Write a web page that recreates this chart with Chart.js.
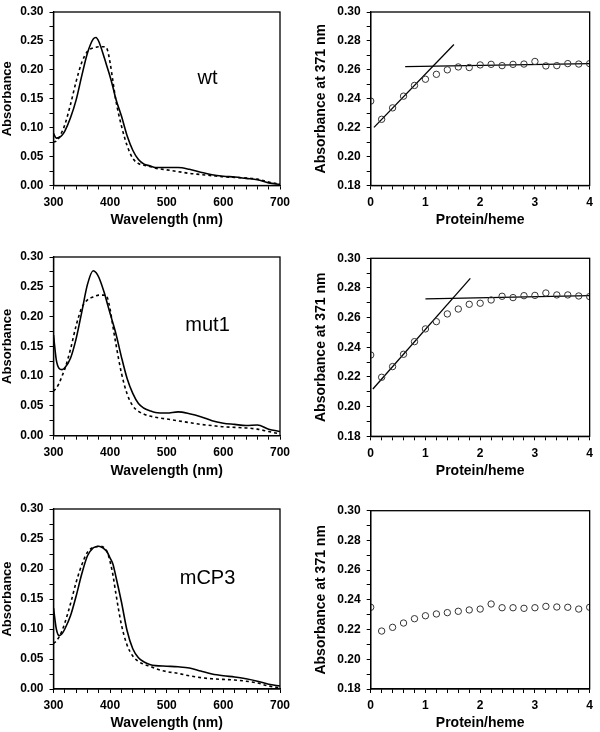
<!DOCTYPE html>
<html>
<head>
<meta charset="utf-8">
<script src="https://cdn.jsdelivr.net/npm/chart.js@4.4.0/dist/chart.umd.min.js"></script>
<style>
  body { margin: 0; background: #fff; }
  .page { position: relative; width: 600px; height: 732px; overflow: hidden; }
  canvas { position: absolute; }
</style>
</head>
<body>
<div class="page">
  <canvas id="spec1" width="300" height="245" style="left:0;top:0"></canvas>
  <canvas id="tit1" width="300" height="245" style="left:300px;top:0"></canvas>
  <canvas id="spec2" width="300" height="245" style="left:0;top:245px"></canvas>
  <canvas id="tit2" width="300" height="245" style="left:300px;top:245px"></canvas>
  <canvas id="spec3" width="300" height="242" style="left:0;top:490px"></canvas>
  <canvas id="tit3" width="300" height="242" style="left:300px;top:490px"></canvas>
</div>
<script>
// spectra (Absorbance vs wavelength)
const wavelengths = [300,305,310,315,320,330,340,350,360,370,375,380,390,395,400,405,410,420,430,440,450,460,470,480,500,520,540,560,580,600,620,640,660,680,700]

const wtSolid   = [0.090,0.082,0.083,0.087,0.094,0.117,0.148,0.190,0.229,0.253,0.256,0.249,0.220,0.204,0.188,0.170,0.150,0.120,0.086,0.061,0.045,0.037,0.034,0.031,0.031,0.031,0.028,0.023,0.0185,0.016,0.0146,0.0123,0.010,0.0045,0.002]
const wtDashed  = [0.075,0.077,0.083,0.093,0.105,0.140,0.180,0.213,0.232,0.238,0.239,0.240,0.240,0.235,0.212,0.180,0.148,0.103,0.069,0.047,0.038,0.035,0.033,0.030,0.027,0.024,0.021,0.019,0.017,0.015,0.014,0.013,0.011,0.006,0.002]

const mut1Solid  = [0.169,0.127,0.113,0.111,0.114,0.130,0.163,0.208,0.254,0.277,0.274,0.266,0.239,0.222,0.205,0.189,0.172,0.132,0.096,0.071,0.054,0.046,0.042,0.039,0.038,0.040,0.037,0.032,0.025,0.021,0.019,0.017,0.018,0.011,0.007]
const mut1Dashed = [0.075,0.080,0.088,0.100,0.112,0.145,0.185,0.215,0.228,0.233,0.235,0.236,0.236,0.232,0.212,0.183,0.155,0.105,0.070,0.050,0.041,0.036,0.033,0.031,0.028,0.025,0.022,0.019,0.017,0.015,0.014,0.013,0.011,0.007,0.003]

const mcp3Solid  = [0.135,0.100,0.089,0.092,0.100,0.122,0.155,0.192,0.222,0.235,0.237,0.238,0.233,0.228,0.218,0.208,0.188,0.145,0.097,0.067,0.052,0.045,0.041,0.039,0.038,0.037,0.035,0.030,0.025,0.022,0.020,0.017,0.013,0.008,0.005]
const mcp3Dashed = [0.076,0.080,0.087,0.097,0.110,0.142,0.178,0.207,0.228,0.236,0.237,0.238,0.235,0.228,0.212,0.190,0.160,0.107,0.073,0.055,0.046,0.041,0.038,0.034,0.029,0.026,0.022,0.019,0.017,0.016,0.015,0.013,0.010,0.005,0.002]

// titrations (Absorbance at 371 nm vs protein/heme)
const proteinHeme = [0,0.2,0.4,0.6,0.8,1.0,1.2,1.4,1.6,1.8,2.0,2.2,2.4,2.6,2.8,3.0,3.2,3.4,3.6,3.8,4.0]
const wtAbs   = [0.2384,0.2258,0.2337,0.2418,0.2492,0.2535,0.2569,0.2600,0.2620,0.2616,0.2634,0.2638,0.2629,0.2638,0.2640,0.2658,0.2627,0.2629,0.2643,0.2640,0.2643]
const mut1Abs = [0.2348,0.2198,0.2270,0.2353,0.2438,0.2524,0.2573,0.2625,0.2658,0.2690,0.2697,0.2719,0.2744,0.2735,0.2748,0.2750,0.2766,0.2753,0.2753,0.2746,0.2742]
const mcp3Abs = [0.2350,0.2190,0.2215,0.2244,0.2273,0.2293,0.2305,0.2314,0.2323,0.2332,0.2338,0.2372,0.2347,0.2347,0.2343,0.2347,0.2356,0.2352,0.2350,0.2338,0.2350]

// fitted lines [x, y] end points
const wtRise   = [[0.06, 0.2202], [1.52, 0.2775]]
const wtFlat   = [[0.63, 0.2622], [4.0, 0.2643]]
const mut1Rise = [[0.04, 0.2119], [1.82, 0.2865]]
const mut1Flat = [[1.0, 0.2726], [4.0, 0.2748]]

const sampleNames = ['wt', 'mut1', 'mCP3']

const FONT = "'Liberation Sans', Arial, sans-serif"

// draws the closed frame and the sample name
const framePlugin = {
    id: 'frame',
    afterDraw(chart, args, opts) {
        const { ctx, chartArea: a } = chart
        ctx.save()
        ctx.strokeStyle = '#000'
        ctx.lineWidth = 1.3
        ctx.strokeRect(a.left, a.top, a.right - a.left, a.bottom - a.top)
        if (opts.label) {
            ctx.fillStyle = '#000'
            ctx.font = '20px ' + FONT
            ctx.textAlign = 'center'
            ctx.textBaseline = 'middle'
            ctx.fillText(opts.label, chart.scales.x.getPixelForValue(opts.lx), chart.scales.y.getPixelForValue(opts.ly))
        }
        ctx.restore()
    }
}

function pts(xs, ys) {
    return xs.map((x, i) => ({ x: x, y: ys[i] }))
}

function axisBase(min, max, step, fmt, title, titleSize, fitFn) {
    return {
        type: 'linear',
        min: min,
        max: max,
        afterFit: fitFn,
        grid: { drawOnChartArea: false, color: '#000', tickLength: 4, lineWidth: 1 },
        border: { color: '#000', width: 1.3 },
        ticks: {
            stepSize: step,
            autoSkip: false,
            maxRotation: 0,
            padding: 6,
            color: '#000',
            font: { family: FONT, size: 12, weight: 'bold', lineHeight: 1 },
            callback: fmt
        },
        title: { display: true, text: title, color: '#000', font: { family: FONT, size: titleSize, weight: 'bold' } }
    }
}

// box = where the plot area sits inside the canvas
function makeChart(id, box, datasets, xAxis, yAxis, label) {
    const canvas = document.getElementById(id)
    const H = canvas.height
    xAxis.afterFit = s => { s.height = H - box.bottom }
    xAxis.ticks.padding = 7
    xAxis.title.padding = { top: 0, bottom: Math.max(0, H - box.bottom - 35 - 8.4) }
    yAxis.afterFit = s => { s.width = box.left - box.titlePad }
    yAxis.title.padding = { top: 0, bottom: 0 }
    return new Chart(canvas.getContext('2d'), {
        type: 'scatter',
        data: { datasets: datasets },
        options: {
            responsive: false,
            animation: false,
            layout: { padding: { top: box.top, right: 300 - box.right, left: box.titlePad, bottom: 0 } },
            scales: { x: xAxis, y: yAxis },
            plugins: {
                legend: { display: false },
                tooltip: { enabled: false },
                frame: label || {}
            }
        },
        plugins: [framePlugin]
    })
}

function spectrum(id, box, solid, dashed, name) {
    const datasets = [
        { data: pts(wavelengths, solid), showLine: true, borderColor: '#000', borderWidth: 1.6, pointRadius: 0, cubicInterpolationMode: 'monotone' },
        { data: pts(wavelengths, dashed), showLine: true, borderColor: '#000', borderWidth: 1.6, borderDash: [3, 3], pointRadius: 0, cubicInterpolationMode: 'monotone' }
    ]
    const x = axisBase(300, 700, 20, v => (v % 100 === 0 ? v : ''), 'Wavelength (nm)', 14)
    const y = axisBase(0, 0.3, 0.025, v => (Math.round(v * 1000) % 50 === 0 ? v.toFixed(2) : ''), 'Absorbance', 13)
    makeChart(id, box, datasets, x, y, { label: name, lx: 572, ly: 0.185 })
}

function titration(id, box, values, lines) {
    const datasets = [
        { data: pts(proteinHeme, values), pointStyle: 'circle', pointRadius: 3.2, borderColor: '#333', borderWidth: 1, backgroundColor: 'rgba(255,255,255,0)' }
    ]
    lines.forEach(l => {
        datasets.push({ data: l.map(p => ({ x: p[0], y: p[1] })), showLine: true, borderColor: '#000', borderWidth: 1.3, pointRadius: 0 })
    })
    const x = axisBase(0, 4, 0.2, v => (Math.abs(v - Math.round(v)) < 1e-6 ? Math.round(v) : ''), 'Protein/heme', 14)
    const y = axisBase(0.18, 0.3, 0.01, v => (Math.round(v * 100) % 2 === 0 ? v.toFixed(2) : ''), 'Absorbance at 371 nm', 14)
    makeChart(id, box, datasets, x, y)
}

spectrum('spec1', { top: 6, bottom: 185.5, left: 53.5, right: 280, titlePad: 0 }, wtSolid, wtDashed, sampleNames[0])
spectrum('spec2', { top: 11.7, bottom: 190.7, left: 53.5, right: 280, titlePad: 0 }, mut1Solid, mut1Dashed, sampleNames[1])
spectrum('spec3', { top: 19, bottom: 199, left: 53.5, right: 280, titlePad: 0 }, mcp3Solid, mcp3Dashed, sampleNames[2])

titration('tit1', { top: 6, bottom: 185.5, left: 70.7, right: 295.7, titlePad: 12.3 }, wtAbs, [wtRise, wtFlat])
titration('tit2', { top: 13.3, bottom: 191.3, left: 70.7, right: 295.7, titlePad: 12.3 }, mut1Abs, [mut1Rise, mut1Flat])
titration('tit3', { top: 20.7, bottom: 199, left: 70.7, right: 295.7, titlePad: 12.3 }, mcp3Abs, [])
</script>
</body>
</html>
